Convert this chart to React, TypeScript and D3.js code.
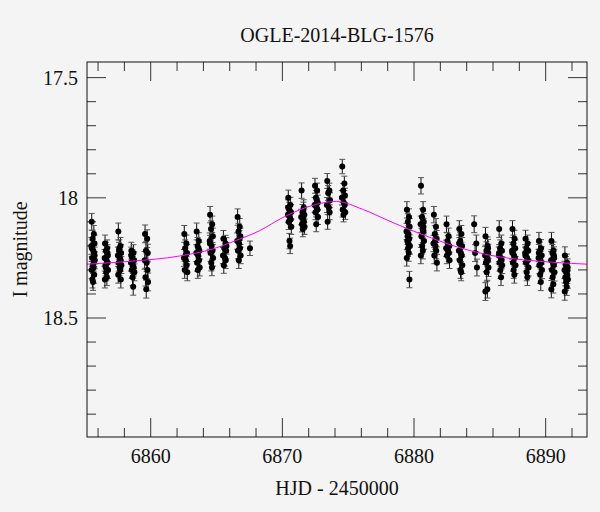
import React, { useEffect } from 'react';
import * as d3 from 'd3';

const title = 'OGLE-2014-BLG-1576';
const xLabel = 'HJD - 2450000';
const yLabel = 'I magnitude';

const xTickLabels = [6860, 6870, 6880, 6890];
const yTickLabels = [17.5, 18, 18.5];

// one entry per night of observations
const nightHjd = [
  6855.62, 6856.63, 6857.64, 6858.63, 6859.67, 6862.65, 6863.59, 6864.61, 6865.62, 6866.7,
  6867.64, 6870.55, 6871.56, 6872.58, 6873.51, 6874.65, 6879.56, 6880.63, 6881.61, 6882.57,
  6883.54, 6884.67, 6885.53, 6886.57, 6887.58, 6888.57, 6889.59, 6890.54, 6891.56,
];

const nightMags = [
  [18.10, 18.15, 18.17, 18.19, 18.20, 18.22, 18.23, 18.25, 18.26, 18.28, 18.29, 18.30, 18.32, 18.34, 18.35, 18.24, 18.21, 18.27],
  [18.19, 18.21, 18.22, 18.24, 18.25, 18.26, 18.27, 18.28, 18.30, 18.31, 18.33, 18.34, 18.23, 18.29],
  [18.14, 18.20, 18.21, 18.23, 18.24, 18.25, 18.26, 18.27, 18.28, 18.29, 18.30, 18.32, 18.34, 18.22],
  [18.22, 18.23, 18.25, 18.26, 18.27, 18.28, 18.29, 18.30, 18.31, 18.33, 18.37, 18.24],
  [18.15, 18.17, 18.22, 18.23, 18.26, 18.27, 18.30, 18.33, 18.35, 18.38],
  [18.15, 18.19, 18.21, 18.23, 18.25, 18.26, 18.28, 18.30, 18.31, 18.24],
  [18.14, 18.18, 18.20, 18.22, 18.23, 18.24, 18.26, 18.27, 18.29, 18.30, 18.21],
  [18.07, 18.11, 18.13, 18.16, 18.18, 18.20, 18.22, 18.23, 18.25, 18.27, 18.29, 18.19],
  [18.17, 18.19, 18.21, 18.22, 18.24, 18.25, 18.26, 18.28, 18.20],
  [18.08, 18.12, 18.14, 18.16, 18.18, 18.19, 18.21, 18.22, 18.24, 18.26, 18.17],
  [18.21],
  [18.00, 18.03, 18.05, 18.06, 18.07, 18.08, 18.09, 18.10, 18.12, 18.18, 18.20, 18.04],
  [17.97, 18.04, 18.06, 18.07, 18.08, 18.09, 18.10, 18.11, 18.12, 18.13, 18.05],
  [17.95, 17.97, 18.00, 18.02, 18.03, 18.04, 18.05, 18.06, 18.08, 18.11, 18.01],
  [17.93, 17.97, 17.98, 18.01, 18.03, 18.04, 18.06, 18.10],
  [17.87, 17.94, 17.97, 17.99, 18.00, 18.02, 18.03, 18.05, 18.06, 18.07],
  [18.05, 18.08, 18.10, 18.12, 18.14, 18.15, 18.17, 18.18, 18.20, 18.21, 18.23, 18.25, 18.34, 18.16, 18.19],
  [17.95, 18.05, 18.08, 18.10, 18.11, 18.13, 18.14, 18.16, 18.18, 18.20, 18.22, 18.24, 18.12],
  [18.07, 18.12, 18.15, 18.17, 18.19, 18.20, 18.22, 18.24, 18.27, 18.18],
  [18.11, 18.16, 18.18, 18.20, 18.21, 18.22, 18.23, 18.24, 18.26, 18.19],
  [18.13, 18.15, 18.18, 18.20, 18.22, 18.23, 18.24, 18.26, 18.28, 18.30, 18.31, 18.19],
  [18.11, 18.19, 18.23, 18.29],
  [18.16, 18.20, 18.22, 18.23, 18.24, 18.25, 18.26, 18.27, 18.29, 18.31, 18.38, 18.39, 18.21],
  [18.13, 18.19, 18.21, 18.22, 18.24, 18.25, 18.26, 18.27, 18.28, 18.30, 18.33, 18.23],
  [18.13, 18.17, 18.19, 18.21, 18.22, 18.24, 18.25, 18.27, 18.28, 18.30, 18.32, 18.23],
  [18.17, 18.19, 18.21, 18.22, 18.23, 18.25, 18.26, 18.27, 18.29, 18.31, 18.33, 18.24],
  [18.18, 18.21, 18.22, 18.24, 18.25, 18.26, 18.27, 18.28, 18.30, 18.32, 18.35, 18.23],
  [18.18, 18.22, 18.23, 18.25, 18.26, 18.27, 18.28, 18.30, 18.31, 18.33, 18.36, 18.38, 18.24],
  [18.24, 18.27, 18.28, 18.29, 18.30, 18.31, 18.32, 18.33, 18.34, 18.35, 18.37, 18.39, 18.30],
];

const nightErr = [
  0.035, 0.035, 0.035, 0.035, 0.037, 0.035, 0.035, 0.034, 0.034, 0.034,
  0.03, 0.032, 0.032, 0.031, 0.031, 0.03, 0.034, 0.034, 0.034, 0.034,
  0.035, 0.035, 0.037, 0.035, 0.035, 0.035, 0.036, 0.036, 0.036,
];

// exposures are spread over a few hours each night
const nightOffsets = [-0.10, 0.06, -0.03, 0.11, -0.13, 0.02, 0.08, -0.07, 0.13, -0.01, 0.04, -0.11, 0.09, -0.05, 0.0, 0.12, -0.09, 0.05];

// model light curve
const modelHjd = [6855.16, 6858.5, 6862.2, 6864.7, 6866.5, 6868.3, 6870.0, 6872.6, 6874.1, 6876.1, 6878.1, 6879.7, 6880.7, 6883.2, 6885.7, 6888.3, 6890.8, 6893.14];
const modelMag = [18.276, 18.264, 18.242, 18.213, 18.177, 18.136, 18.083, 18.027, 18.015, 18.048, 18.096, 18.133, 18.154, 18.203, 18.238, 18.258, 18.269, 18.276];

const W = 600;
const H = 512;
const margin = { top: 62, right: 13, bottom: 75, left: 87 };

const App = () => {
  useEffect(() => {
    document.body.style.margin = '0';
    document.body.style.background = '#f4f4f4';
  }, []);

  const x = d3.scaleLinear().domain([6855.16, 6893.14]).range([margin.left, W - margin.right]);
  const y = d3.scaleLinear().domain([17.435, 18.995]).range([margin.top, H - margin.bottom]);

  const x0 = margin.left, x1 = W - margin.right;
  const y0 = margin.top, y1 = H - margin.bottom;

  const xMinor = d3.range(6856, 6893, 2).filter(d => d % 10 !== 0);
  const yMinor = d3.range(17.5, 19.0, 0.1).map(d => +d.toFixed(1)).filter(d => !yTickLabels.includes(d));

  const points = nightHjd.flatMap((t, n) =>
    nightMags[n].map((m, i) => ({ t: t + nightOffsets[i % nightOffsets.length], m, e: nightErr[n] }))
  );

  const model = d3.line<number>()
    .x((_, i) => x(modelHjd[i]))
    .y(d => y(d))
    .curve(d3.curveMonotoneX)(modelMag);

  const font = '"Liberation Serif", serif';
  const major = 19;
  const minor = 9;

  return (
    <svg width={W} height={H} style={{ display: 'block', background: '#f4f4f4' }} fontFamily={font}>
      <rect width={W} height={H} fill="#f4f4f4" />
      <text x={(x0 + x1) / 2} y={42} textAnchor="middle" fontSize={20} fill="#111">{title}</text>

      <defs>
        <clipPath id="plot">
          <rect x={x0} y={y0} width={x1 - x0} height={y1 - y0} />
        </clipPath>
      </defs>

      <g stroke="#333" strokeWidth={1}>
        {xTickLabels.map(d => (
          <g key={'xM' + d}>
            <line x1={x(d)} x2={x(d)} y1={y1} y2={y1 - major} />
            <line x1={x(d)} x2={x(d)} y1={y0} y2={y0 + major} />
          </g>
        ))}
        {xMinor.map(d => (
          <g key={'xm' + d}>
            <line x1={x(d)} x2={x(d)} y1={y1} y2={y1 - minor} />
            <line x1={x(d)} x2={x(d)} y1={y0} y2={y0 + minor} />
          </g>
        ))}
        {yTickLabels.map(d => (
          <g key={'yM' + d}>
            <line x1={x0} x2={x0 + major} y1={y(d)} y2={y(d)} />
            <line x1={x1} x2={x1 - major} y1={y(d)} y2={y(d)} />
          </g>
        ))}
        {yMinor.map(d => (
          <g key={'ym' + d}>
            <line x1={x0} x2={x0 + minor} y1={y(d)} y2={y(d)} />
            <line x1={x1} x2={x1 - minor} y1={y(d)} y2={y(d)} />
          </g>
        ))}
      </g>

      <g clipPath="url(#plot)">
        <g stroke="#111" strokeWidth={1}>
          {points.map((p, i) => (
            <g key={'e' + i}>
              <line x1={x(p.t)} x2={x(p.t)} y1={y(p.m - p.e)} y2={y(p.m + p.e)} />
              <line x1={x(p.t) - 3} x2={x(p.t) + 3} y1={y(p.m - p.e)} y2={y(p.m - p.e)} stroke="#555" />
              <line x1={x(p.t) - 3} x2={x(p.t) + 3} y1={y(p.m + p.e)} y2={y(p.m + p.e)} stroke="#555" />
            </g>
          ))}
        </g>
        <g fill="#000">
          {points.map((p, i) => (
            <circle key={'p' + i} cx={x(p.t)} cy={y(p.m)} r={3} />
          ))}
        </g>
        <path d={model ?? ''} fill="none" stroke="#ff00ff" strokeWidth={1} />
      </g>

      <rect x={x0} y={y0} width={x1 - x0} height={y1 - y0} fill="none" stroke="#111" strokeWidth={1} />

      {xTickLabels.map(d => (
        <text key={'xl' + d} x={x(d)} y={463} textAnchor="middle" fontSize={20} fill="#111">{d}</text>
      ))}
      {yTickLabels.map(d => (
        <text key={'yl' + d} x={78} y={y(d) + 7} textAnchor="end" fontSize={20} fill="#111">{d}</text>
      ))}

      <text x={(x0 + x1) / 2} y={495} textAnchor="middle" fontSize={20} fill="#111">{xLabel}</text>
      <text transform={`translate(27, ${(y0 + y1) / 2}) rotate(-90)`} textAnchor="middle" fontSize={20} fill="#111">{yLabel}</text>
    </svg>
  );
};

export default App;
